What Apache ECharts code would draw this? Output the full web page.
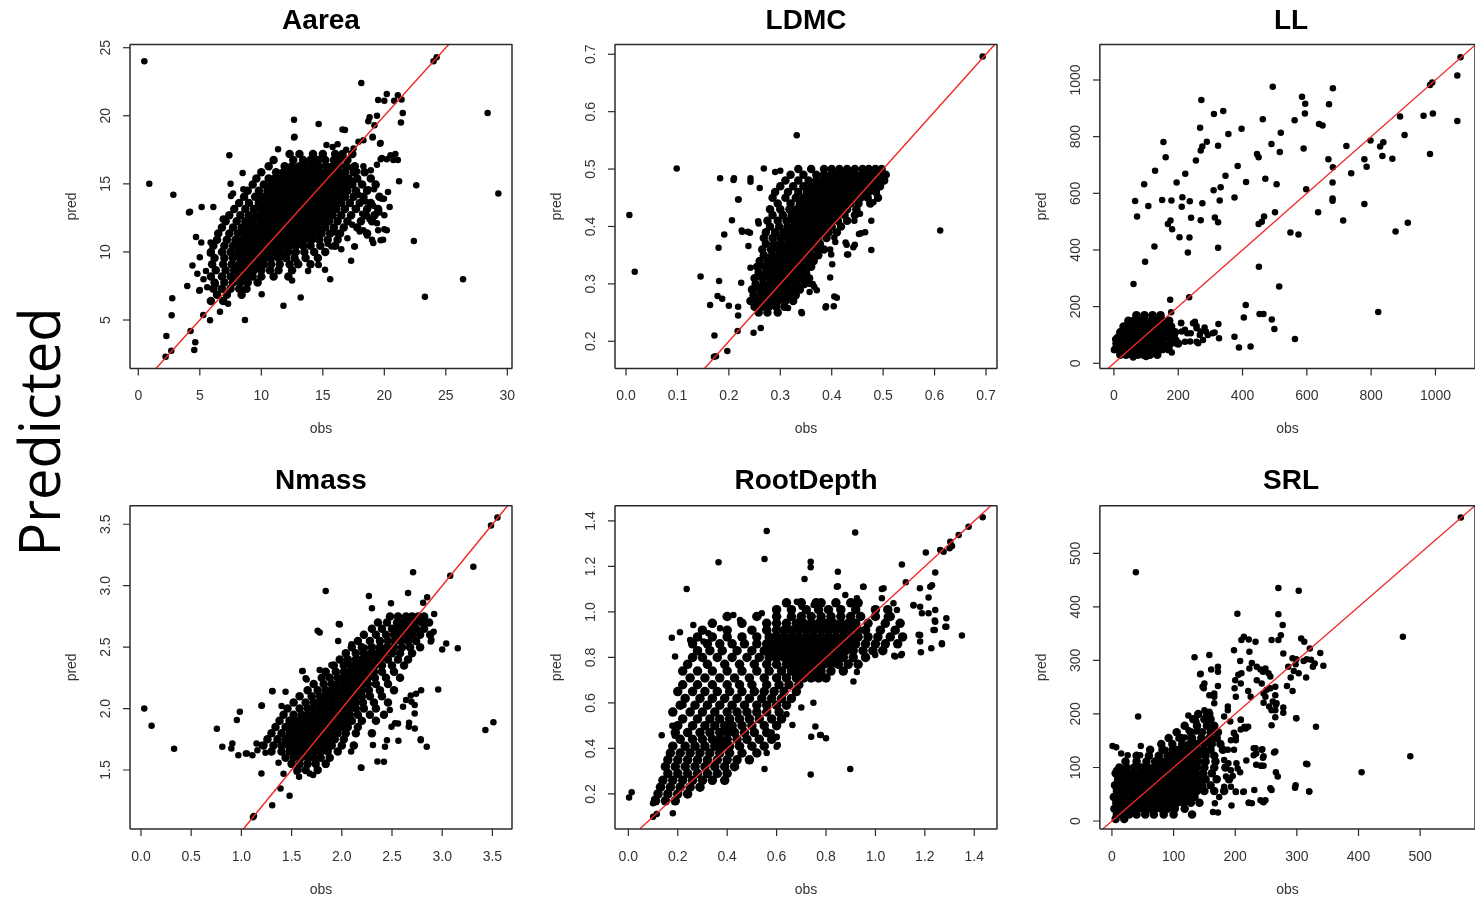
<!DOCTYPE html>
<html>
<head>
<meta charset="utf-8">
<title>obs vs pred</title>
<script src="https://cdn.jsdelivr.net/npm/echarts@6/dist/echarts.min.js"></script>
<style>
  html, body { margin: 0; padding: 0; background: #fff; }
  #main { width: 1475px; height: 899px; }
</style>
</head>
<body>
<div id="main"></div>
<script>
// panel names, tick values and plot-box extents
var panelNames = ['Aarea', 'LDMC', 'LL', 'Nmass', 'RootDepth', 'SRL'];
var xTicks = [
  [0, 5, 10, 15, 20, 25, 30],
  [0, 0.1, 0.2, 0.3, 0.4, 0.5, 0.6, 0.7],
  [0, 200, 400, 600, 800, 1000],
  [0, 0.5, 1, 1.5, 2, 2.5, 3, 3.5],
  [0, 0.2, 0.4, 0.6, 0.8, 1, 1.2, 1.4],
  [0, 100, 200, 300, 400, 500]
];
var yTicks = [
  [5, 10, 15, 20, 25],
  [0.2, 0.3, 0.4, 0.5, 0.6, 0.7],
  [0, 200, 400, 600, 800, 1000],
  [1.5, 2, 2.5, 3, 3.5],
  [0.2, 0.4, 0.6, 0.8, 1, 1.2, 1.4],
  [0, 100, 200, 300, 400, 500]
];
var tickDigits = [0, 1, 0, 1, 1, 0];
var xRange = [[-0.675, 30.38], [-0.0214, 0.7214], [-43.7, 1123], [-0.109, 3.695], [-0.054, 1.492], [-19.6, 589]];
var yRange = [[1.438, 25.235], [0.1526, 0.717], [-18.4, 1125.3], [1.02, 3.651], [0.046, 1.467], [-14.9, 588.9]];

// ---- Aarea : scattered points [obs, pred] and dense core rows [pred, [obs...]]
var aareaPts = [
  [0.49,24.0],[0.89,15.0],[2.85,14.2],[18.13,22.4],[24.0,24.0],[24.25,24.3],[28.4,20.2],[29.27,14.3],
  [22.6,14.9],[22.4,10.8],[23.3,6.7],[26.4,8.0],[17.3,9.35],[15.6,8.0],[13.2,6.65],[11.8,6.05],[8.67,5.0],
  [7.4,17.1],[3.98,7.5],[4.96,7.15],[2.76,6.6],[2.71,5.34],[2.28,3.82],[2.22,2.31],[2.68,2.75],[4.25,4.19],
  [4.63,3.36],[4.55,2.8],[5.15,13.3],[4.12,12.9],[6.1,13.3],[4.69,11.1],[5.12,10.7],[5.88,10.7],[6.86,12.4],
  [5.28,5.37],[5.83,4.98],[6.64,5.6],[7.3,6.2],[8.48,15.8],[7.5,15.0],[7.53,14.1],[7.7,14.3],[8.54,14.6],
  [12.66,19.7],[12.66,18.4],[14.66,19.4],[11.36,17.55],[16.6,19.0],[18.8,19.9],[19.5,21.15],[20.2,21.6],
  [21.1,21.5],[21.4,21.2],[20.8,21.1],[20.0,21.1],[21.5,20.2],[21.35,19.5],[21.2,15.2],[21.1,16.75],
  [20.5,17.1],[20.9,17.2],[20.2,16.8],[19.65,17.95],[19.05,18.4],[20.2,11.6],[19.9,10.9],[19.1,10.65],
  [17.56,10.4],[15.4,10.6],[14.66,9.04],[12.5,7.9],[10.03,6.9],[4.2,12.95],[6.91,12.45],[5.83,9.88],
  [5.0,7.2],[15.18,8.7],[17.6,10.4],[20.43,13.3],[20.0,11.67],[19.7,10.86],[19.0,10.9],[18.3,11.6],
  [19.16,14.6],[19.97,13.9],[20.73,16.75],[19.7,16.8],[19.05,18.46],[19.7,18.0],[16.8,18.95],[12.7,18.46],
  [15.3,17.85],[15.8,17.7],[17.9,18.1],[18.3,18.2],[18.7,19.6],[19.2,19.3],[19.4,20.0],[16.2,17.9],
  [16.9,17.5],[17.5,17.6],[17.2,16.2],[17.8,15.9],[18.3,16.3],[18.9,16.0],[19.4,16.4],[19.8,16.9],
  [17.5,15.2],[18.1,15.0],[18.7,14.6],[19.3,14.9],[17.9,14.2],[18.5,13.7],[19.1,13.4],[19.6,12.9],
  [17.6,13.2],[18.2,12.8],[18.8,12.4],[19.4,12.1],[17.4,12.0],[18.0,11.5],[18.6,11.2],[19.5,11.6],
  [20.0,12.7],[19.8,13.9],[20.3,14.4],[17.0,11.0],[16.5,10.2],[16.1,11.4],[15.7,10.4],[4.4,9.0],
  [5.0,9.6],[5.5,8.6],[5.3,8.0],[6.3,7.6],[5.6,7.4],[4.8,8.4],[14.64,9.05],[13.8,8.6],[12.9,9.3]
];
var aareaRows = [
  [17.2, [12.3, 13.1, 14.2, 15.0, 16.0, 16.6, 17.4]],
  [16.75, [11.0, 12.6, 13.4, 14.0, 14.6, 15.2, 15.9, 16.4, 17.0]],
  [16.3, [10.6, 11.9, 12.5, 13.1, 13.6, 14.2, 14.7, 15.3, 15.8, 16.3, 16.9, 17.6]],
  [15.85, [10.0, 11.2, 11.8, 12.3, 12.8, 13.3, 13.8, 14.3, 14.8, 15.3, 15.8, 16.3, 16.8, 17.5, 18.4]],
  [15.4, [9.6, 10.6, 11.1, 11.6, 12.1, 12.6, 13.1, 13.6, 14.1, 14.6, 15.1, 15.6, 16.1, 16.6, 17.1, 17.8, 18.9]],
  [14.95, [9.3, 10.2, 10.8, 11.3, 11.8, 12.3, 12.8, 13.3, 13.8, 14.3, 14.8, 15.3, 15.8, 16.3, 16.8, 17.4, 18.2, 19.3]],
  [14.5, [8.9, 9.8, 10.5, 11.0, 11.5, 12.0, 12.5, 13.0, 13.5, 14.0, 14.5, 15.0, 15.5, 16.0, 16.5, 17.0, 17.7, 18.6]],
  [14.05, [8.6, 9.5, 10.1, 10.7, 11.2, 11.7, 12.2, 12.7, 13.2, 13.7, 14.2, 14.7, 15.2, 15.7, 16.2, 16.8, 17.5, 18.3, 19.6]],
  [13.6, [8.2, 9.0, 9.8, 10.4, 10.9, 11.4, 11.9, 12.4, 12.9, 13.4, 13.9, 14.4, 14.9, 15.4, 15.9, 16.5, 17.2, 18.0, 18.9]],
  [13.15, [7.8, 8.7, 9.4, 10.0, 10.5, 11.0, 11.5, 12.0, 12.5, 13.0, 13.5, 14.0, 14.5, 15.0, 15.5, 16.1, 16.8, 17.7, 18.6, 19.5]],
  [12.7, [7.4, 8.3, 9.0, 9.6, 10.2, 10.7, 11.2, 11.7, 12.2, 12.7, 13.2, 13.7, 14.2, 14.7, 15.2, 15.8, 16.5, 17.3, 18.5, 19.2]],
  [12.25, [7.1, 8.0, 8.7, 9.3, 9.9, 10.4, 10.9, 11.4, 11.9, 12.4, 12.9, 13.4, 13.9, 14.4, 14.9, 15.5, 16.2, 17.0, 18.1, 19.0]],
  [11.8, [6.8, 7.7, 8.4, 9.0, 9.6, 10.1, 10.6, 11.1, 11.6, 12.1, 12.6, 13.1, 13.6, 14.1, 14.6, 15.2, 15.9, 16.7, 17.8]],
  [11.35, [6.5, 7.4, 8.1, 8.7, 9.3, 9.8, 10.3, 10.8, 11.3, 11.8, 12.3, 12.8, 13.3, 13.8, 14.3, 14.9, 15.6, 16.4, 18.6]],
  [10.9, [6.4, 7.2, 7.9, 8.5, 9.0, 9.5, 10.0, 10.5, 11.0, 11.5, 12.0, 12.5, 13.0, 13.5, 14.1, 14.7, 15.4, 16.2]],
  [10.45, [6.1, 7.0, 7.7, 8.3, 8.8, 9.3, 9.8, 10.3, 10.8, 11.3, 11.8, 12.3, 12.8, 13.4, 14.0, 14.8, 16.0]],
  [10.0, [5.9, 6.8, 7.5, 8.1, 8.6, 9.1, 9.6, 10.1, 10.6, 11.1, 11.6, 12.2, 12.8, 13.5, 14.3, 15.2]],
  [9.55, [6.2, 7.0, 7.7, 8.3, 8.8, 9.3, 9.8, 10.3, 10.8, 11.4, 12.0, 12.7, 13.6, 14.6]],
  [9.1, [6.0, 6.9, 7.6, 8.2, 8.7, 9.2, 9.7, 10.2, 10.8, 11.5, 12.3, 13.0, 14.0]],
  [8.65, [6.3, 7.1, 7.8, 8.4, 8.9, 9.4, 10.0, 10.7, 11.4, 12.5]],
  [8.2, [5.9, 6.8, 7.5, 8.1, 8.7, 9.3, 10.0, 11.0, 12.2]],
  [7.75, [6.2, 7.0, 7.7, 8.3, 8.9, 9.7]],
  [7.3, [6.1, 6.8, 7.5, 8.2, 8.8]],
  [6.85, [6.4, 7.2, 8.4]],
  [6.4, [5.9, 6.9]]
];

// ---- LDMC
var ldmcPts = [
  [0.0065,0.42],[0.017,0.321],[0.0986,0.501],[0.332,0.559],[0.6935,0.696],[0.611,0.393],[0.145,0.313],
  [0.1635,0.263],[0.183,0.484],[0.209,0.481],[0.219,0.447],[0.206,0.411],[0.191,0.386],[0.18,0.363],
  [0.181,0.305],[0.178,0.279],[0.187,0.274],[0.20,0.262],[0.172,0.21],[0.175,0.174],[0.171,0.173],
  [0.197,0.183],[0.217,0.218],[0.248,0.215],[0.262,0.223],[0.224,0.302],[0.218,0.26],[0.218,0.245],
  [0.225,0.393],[0.241,0.389],[0.238,0.366],[0.242,0.328],[0.26,0.467],[0.242,0.484],[0.242,0.478],
  [0.268,0.501],[0.29,0.495],[0.258,0.405],[0.315,0.258],[0.342,0.249],[0.388,0.259],[0.404,0.261],
  [0.41,0.276],[0.397,0.311],[0.363,0.30],[0.371,0.289],[0.357,0.286],[0.477,0.359],[0.477,0.41],
  [0.444,0.41],[0.43,0.351],[0.442,0.364],[0.427,0.372],[0.453,0.387],[0.465,0.39],[0.455,0.422],
  [0.405,0.381],[0.407,0.373],[0.401,0.334],[0.399,0.351],[0.397,0.36],[0.481,0.442],[0.21,0.484],
  [0.226,0.391],[0.237,0.391],[0.257,0.409],[0.429,0.368],[0.445,0.368],[0.457,0.388],[0.432,0.351],
  [0.405,0.278],[0.389,0.261],[0.341,0.251],[0.358,0.30],[0.366,0.295],[0.30,0.497],[0.218,0.447]
];
var ldmcRows = [
  [0.500, [0.335, 0.36, 0.385, 0.40, 0.415, 0.43, 0.445, 0.46, 0.472, 0.485, 0.497]],
  [0.490, [0.32, 0.345, 0.37, 0.385, 0.398, 0.41, 0.422, 0.434, 0.446, 0.458, 0.47, 0.482, 0.494, 0.505]],
  [0.480, [0.31, 0.335, 0.355, 0.37, 0.382, 0.394, 0.406, 0.418, 0.43, 0.442, 0.454, 0.466, 0.478, 0.49, 0.502]],
  [0.470, [0.30, 0.325, 0.345, 0.36, 0.372, 0.384, 0.396, 0.408, 0.42, 0.432, 0.444, 0.456, 0.468, 0.48, 0.494]],
  [0.460, [0.29, 0.315, 0.335, 0.352, 0.364, 0.376, 0.388, 0.40, 0.412, 0.424, 0.436, 0.448, 0.46, 0.472, 0.486]],
  [0.450, [0.285, 0.31, 0.33, 0.345, 0.358, 0.37, 0.382, 0.394, 0.406, 0.418, 0.43, 0.442, 0.456, 0.47, 0.49]],
  [0.440, [0.295, 0.32, 0.338, 0.35, 0.362, 0.374, 0.386, 0.398, 0.41, 0.422, 0.436, 0.452, 0.475]],
  [0.430, [0.28, 0.30, 0.318, 0.332, 0.344, 0.356, 0.368, 0.38, 0.392, 0.404, 0.416, 0.43, 0.448]],
  [0.420, [0.285, 0.305, 0.322, 0.336, 0.348, 0.36, 0.372, 0.384, 0.396, 0.41, 0.425, 0.445]],
  [0.410, [0.275, 0.295, 0.312, 0.326, 0.338, 0.35, 0.362, 0.374, 0.386, 0.398, 0.412, 0.43]],
  [0.400, [0.28, 0.298, 0.314, 0.328, 0.34, 0.352, 0.364, 0.376, 0.388, 0.40, 0.418]],
  [0.390, [0.272, 0.29, 0.306, 0.32, 0.332, 0.344, 0.356, 0.368, 0.38, 0.394, 0.41]],
  [0.380, [0.268, 0.285, 0.30, 0.314, 0.326, 0.338, 0.35, 0.362, 0.374, 0.39]],
  [0.370, [0.272, 0.288, 0.302, 0.315, 0.327, 0.339, 0.351, 0.363, 0.377]],
  [0.360, [0.265, 0.282, 0.296, 0.309, 0.321, 0.333, 0.345, 0.357, 0.372, 0.385]],
  [0.350, [0.268, 0.284, 0.298, 0.311, 0.323, 0.335, 0.347, 0.36, 0.374]],
  [0.340, [0.26, 0.276, 0.29, 0.303, 0.315, 0.327, 0.339, 0.351, 0.365]],
  [0.330, [0.255, 0.27, 0.284, 0.297, 0.309, 0.321, 0.333, 0.345, 0.36]],
  [0.320, [0.258, 0.273, 0.287, 0.30, 0.312, 0.324, 0.336, 0.35]],
  [0.310, [0.25, 0.265, 0.279, 0.292, 0.304, 0.316, 0.328, 0.342, 0.356]],
  [0.300, [0.252, 0.267, 0.281, 0.294, 0.306, 0.318, 0.332, 0.347]],
  [0.290, [0.245, 0.26, 0.274, 0.287, 0.299, 0.311, 0.324, 0.338]],
  [0.280, [0.248, 0.263, 0.277, 0.29, 0.302, 0.315, 0.33]],
  [0.270, [0.242, 0.256, 0.27, 0.283, 0.296, 0.31, 0.325]],
  [0.260, [0.25, 0.264, 0.278, 0.292, 0.308]],
  [0.250, [0.258, 0.275, 0.295]]
];

// ---- LL
var llPts = [
  [272,929],[311,880],[340,891],[494,976],[585,941],[595,916],[594,882],[681,971],[669,914],[638,845],
  [649,839],[562,858],[463,861],[397,828],[356,809],[268,831],[289,782],[324,768],[154,781],[161,727],
  [275,765],[270,751],[255,716],[128,680],[222,669],[195,638],[94,632],[66,573],[107,555],[72,518],
  [150,576],[179,575],[213,586],[236,572],[275,565],[211,553],[168,492],[176,504],[181,473],[204,445],
  [235,444],[230,391],[240,514],[270,505],[126,412],[97,358],[314,515],[310,611],[332,621],[329,575],
  [347,662],[324,498],[324,408],[375,585],[385,696],[411,640],[445,739],[450,727],[471,651],[467,518],
  [450,492],[460,500],[451,341],[490,774],[516,746],[506,632],[501,533],[519,814],[549,462],[574,455],
  [590,758],[598,614],[635,533],[667,720],[681,692],[680,638],[680,582],[680,574],[713,504],[723,767],
  [738,671],[779,720],[786,694],[798,786],[779,562],[828,765],[838,780],[835,732],[866,722],[876,465],
  [890,871],[904,806],[914,496],[963,874],[983,982],[990,991],[992,882],[983,739],[1068,1016],[1078,1080],
  [1068,855],[822,181],[514,271],[410,206],[404,162],[453,174],[465,174],[491,155],[499,121],[563,86],
  [425,59],[389,56],[375,94],[327,88],[325,139],[313,109],[61,280],[234,233],[175,224],[178,180],
  [252,147],[257,132],[282,126],[286,112],[267,100],[257,76],[237,77],[228,106],[211,112],[209,143],
  [180,114],[189,97],[194,82],[180,38],[209,141],[221,118],[239,106],[246,141],[257,124],[270,112],
  [277,82],[262,71],[292,100],[307,106],[221,76],[190,71],[0,47],[4,85],[60,20],[100,22]
];
var llRows = [
  [170, [70, 95, 120, 145]],
  [150, [45, 62, 80, 98, 116, 134, 152, 172]],
  [130, [30, 48, 66, 84, 102, 120, 138, 156, 178]],
  [110, [20, 38, 56, 74, 92, 110, 128, 146, 166, 190]],
  [90, [12, 30, 48, 66, 84, 102, 120, 138, 158, 180]],
  [70, [8, 25, 42, 60, 78, 96, 114, 132, 152, 175, 200]],
  [50, [5, 22, 40, 58, 76, 94, 112, 130, 150, 170]],
  [30, [20, 38, 56, 74, 92, 112, 135]]
];

// ---- Nmass
var nmassPts = [
  [0.033,2.0],[0.106,1.86],[0.33,1.673],[0.756,1.836],[0.81,1.69],[0.9,1.676],[0.91,1.716],[0.955,1.907],
  [0.985,1.974],[0.97,1.62],[1.055,1.635],[1.11,1.62],[1.2,2.024],[1.2,1.472],[1.307,2.143],[1.307,1.214],
  [1.39,1.35],[1.48,1.29],[1.125,1.125],[1.115,1.115],[1.84,2.957],[1.78,2.62],[1.76,2.634],[1.97,2.688],
  [1.61,2.306],[1.64,2.246],[2.27,2.916],[2.3,2.816],[2.49,2.857],[2.66,2.94],[2.71,3.11],[3.08,3.08],
  [3.31,3.155],[3.486,3.49],[3.55,3.554],[2.85,2.906],[2.81,2.862],[2.92,2.77],[3.04,2.53],[3.0,2.48],
  [3.155,2.49],[2.96,2.156],[2.886,2.545],[2.915,2.626],[2.846,1.69],[2.786,1.75],[2.667,1.852],
  [2.726,1.96],[2.726,2.03],[2.687,2.107],[2.564,1.738],[2.53,1.88],[3.43,1.825],[3.51,1.888],[2.19,1.52],
  [2.355,1.57],[2.42,1.567],[2.093,1.65],[2.31,1.703],[1.715,1.46],[1.575,1.445],[1.98,2.685],
  [1.964,2.55],[2.097,2.523],[2.23,2.495],[1.897,2.354],[1.78,2.313],[1.606,2.305],[1.65,2.237],
  [1.31,2.142],[1.44,2.137],[1.204,2.026],[1.4,2.02],[1.045,1.635],[1.151,1.716],[1.2,1.703],
  [1.55,1.485],[1.68,1.472],[2.196,1.518],[2.786,1.743],[2.893,2.558],[2.67,1.885],[2.727,1.838],
  [2.56,1.879],[2.495,1.852],[2.61,2.015],[2.64,2.069],[2.694,2.056],[2.79,2.15],[2.74,2.12],
  [2.478,1.988],[2.43,1.689],[2.45,1.743],[1.16,1.66],[1.24,1.64],[1.37,1.56],[1.42,1.47]
];
var nmassRows = [
  [2.75, [2.48, 2.56, 2.64, 2.70, 2.76, 2.82]],
  [2.70, [2.36, 2.45, 2.55, 2.61, 2.67, 2.73, 2.80, 2.87]],
  [2.65, [2.30, 2.40, 2.50, 2.56, 2.62, 2.68, 2.74, 2.82]],
  [2.60, [2.22, 2.34, 2.44, 2.52, 2.58, 2.64, 2.70, 2.78, 2.88]],
  [2.55, [2.16, 2.28, 2.38, 2.46, 2.53, 2.59, 2.66, 2.74]],
  [2.50, [2.10, 2.20, 2.30, 2.38, 2.45, 2.52, 2.60, 2.68, 2.78]],
  [2.45, [2.04, 2.14, 2.22, 2.29, 2.36, 2.42, 2.50, 2.58, 2.70]],
  [2.40, [1.98, 2.06, 2.14, 2.20, 2.26, 2.32, 2.38, 2.46, 2.56, 2.66]],
  [2.35, [1.92, 2.02, 2.09, 2.15, 2.21, 2.27, 2.33, 2.40, 2.50, 2.62]],
  [2.30, [1.84, 1.94, 2.02, 2.08, 2.14, 2.20, 2.26, 2.32, 2.40, 2.52]],
  [2.25, [1.80, 1.88, 1.96, 2.02, 2.08, 2.14, 2.20, 2.26, 2.33, 2.44, 2.58]],
  [2.20, [1.72, 1.82, 1.90, 1.96, 2.02, 2.08, 2.14, 2.20, 2.26, 2.34, 2.46]],
  [2.15, [1.66, 1.76, 1.84, 1.90, 1.96, 2.02, 2.08, 2.14, 2.20, 2.27, 2.38, 2.52]],
  [2.10, [1.58, 1.70, 1.78, 1.84, 1.90, 1.96, 2.02, 2.08, 2.14, 2.20, 2.28, 2.40]],
  [2.05, [1.52, 1.64, 1.72, 1.78, 1.84, 1.90, 1.96, 2.02, 2.08, 2.14, 2.21, 2.32, 2.46]],
  [2.00, [1.46, 1.58, 1.66, 1.72, 1.78, 1.84, 1.90, 1.96, 2.02, 2.08, 2.14, 2.22, 2.34]],
  [1.95, [1.42, 1.52, 1.60, 1.66, 1.72, 1.78, 1.84, 1.90, 1.96, 2.02, 2.08, 2.16, 2.28, 2.42]],
  [1.90, [1.38, 1.48, 1.55, 1.61, 1.67, 1.73, 1.79, 1.85, 1.91, 1.97, 2.03, 2.10, 2.20, 2.34]],
  [1.85, [1.34, 1.44, 1.51, 1.57, 1.63, 1.69, 1.75, 1.81, 1.87, 1.93, 1.99, 2.06, 2.16]],
  [1.80, [1.30, 1.40, 1.48, 1.54, 1.60, 1.66, 1.72, 1.78, 1.84, 1.90, 1.96, 2.04, 2.14, 2.30]],
  [1.75, [1.26, 1.36, 1.44, 1.50, 1.56, 1.62, 1.68, 1.74, 1.80, 1.86, 1.93, 2.02]],
  [1.70, [1.22, 1.32, 1.40, 1.47, 1.53, 1.59, 1.65, 1.71, 1.77, 1.83, 1.90, 2.00, 2.12]],
  [1.65, [1.30, 1.40, 1.48, 1.55, 1.61, 1.67, 1.73, 1.79, 1.86, 1.96]],
  [1.60, [1.44, 1.52, 1.59, 1.66, 1.72, 1.79, 1.88]],
  [1.55, [1.50, 1.58, 1.66, 1.74, 1.84]],
  [1.50, [1.56, 1.64, 1.76]]
];

// ---- RootDepth
var rootPts = [
  [0.003,0.185],[0.0135,0.207],[0.56,1.356],[0.551,1.233],[0.365,1.218],[0.236,1.101],[0.918,1.349],
  [0.738,1.221],[0.738,1.196],[0.713,1.145],[0.848,1.177],[0.848,1.113],[0.95,1.111],[1.026,1.101],
  [1.107,1.209],[1.123,1.13],[1.204,1.261],[1.242,1.173],[1.222,1.111],[1.229,1.117],[1.215,1.064],
  [1.18,1.104],[1.154,1.028],[1.188,0.994],[1.242,1.009],[1.287,0.972],[1.35,0.896],[1.287,0.935],
  [1.24,0.962],[1.24,0.921],[1.175,0.90],[1.181,0.87],[1.184,0.823],[1.226,0.84],[1.269,0.858],
  [1.046,0.979],[1.076,0.808],[1.103,0.81],[0.999,0.811],[0.911,0.694],[0.925,0.736],[1.262,1.272],
  [1.276,1.265],[1.303,1.309],[1.337,1.338],[1.377,1.375],[1.434,1.416],[1.30,1.28],[1.31,1.29],
  [0.749,0.601],[0.757,0.496],[0.776,0.459],[0.80,0.445],[0.74,0.452],[0.738,0.286],[0.898,0.31],
  [0.664,0.503],[0.551,0.31],[0.605,0.415],[0.60,0.449],[0.176,0.887],[0.189,0.804],[0.209,0.911],
  [0.25,0.877],[0.263,0.943],[0.135,0.458],[0.182,0.562],[0.223,0.591],[0.178,0.50],[0.188,0.456],
  [0.18,0.115],[0.10,0.10],[0.115,0.112],[0.105,0.177],[0.10,0.159],[0.682,1.045],[0.702,1.023],
  [0.75,1.031],[0.77,1.038],[0.844,1.111],[0.878,1.075],[0.952,1.111],[0.925,1.06],[0.925,1.031],
  [1.033,1.104],[1.026,1.06],[1.073,1.038],[1.087,1.009],[1.154,1.031],[1.181,1.023],[1.215,0.994],
  [1.242,0.957],[1.283,0.935],[1.181,0.899],[1.235,0.921],[1.269,0.862],[0.425,0.987],[0.452,0.965],
  [0.54,0.994],[0.60,1.009],[0.371,0.928],[0.324,0.906],[0.304,0.87],[0.779,0.459],[0.60,0.408],
  [0.60,0.452],[1.08,0.804],[1.107,0.815],[0.66,0.62],[0.70,0.58],[0.64,0.55],[0.58,0.47],[0.56,0.38]
];
var rootRows = [
  [1.04, [0.64, 0.70, 0.76, 0.78, 0.84, 0.90, 0.93]],
  [1.01, [0.60, 0.66, 0.72, 0.77, 0.81, 0.86, 0.92, 1.00, 1.05]],
  [0.98, [0.40, 0.52, 0.60, 0.66, 0.70, 0.74, 0.78, 0.82, 0.86, 0.90, 0.94, 1.00, 1.06]],
  [0.95, [0.34, 0.46, 0.56, 0.60, 0.64, 0.68, 0.71, 0.74, 0.77, 0.80, 0.83, 0.86, 0.89, 0.92, 0.97, 1.04, 1.10]],
  [0.92, [0.30, 0.40, 0.50, 0.56, 0.60, 0.63, 0.66, 0.69, 0.72, 0.75, 0.78, 0.81, 0.84, 0.87, 0.90, 0.93, 0.96, 1.02, 1.08]],
  [0.89, [0.28, 0.34, 0.40, 0.46, 0.52, 0.57, 0.60, 0.63, 0.66, 0.69, 0.72, 0.75, 0.78, 0.81, 0.84, 0.87, 0.90, 0.93, 0.97, 1.01, 1.06, 1.11]],
  [0.86, [0.26, 0.32, 0.37, 0.42, 0.47, 0.52, 0.56, 0.59, 0.62, 0.65, 0.68, 0.71, 0.74, 0.77, 0.80, 0.83, 0.86, 0.89, 0.92, 0.96, 1.00, 1.04, 1.09]],
  [0.83, [0.28, 0.33, 0.38, 0.44, 0.50, 0.55, 0.58, 0.61, 0.64, 0.67, 0.70, 0.73, 0.76, 0.79, 0.82, 0.85, 0.88, 0.91, 0.95, 0.99, 1.03]],
  [0.80, [0.26, 0.30, 0.36, 0.42, 0.48, 0.53, 0.57, 0.60, 0.63, 0.66, 0.69, 0.72, 0.75, 0.78, 0.81, 0.84, 0.87, 0.91, 0.96]],
  [0.77, [0.24, 0.32, 0.39, 0.45, 0.51, 0.56, 0.60, 0.64, 0.67, 0.70, 0.73, 0.76, 0.79, 0.82, 0.85, 0.89, 0.93]],
  [0.74, [0.22, 0.28, 0.34, 0.40, 0.46, 0.52, 0.57, 0.62, 0.66, 0.69, 0.72, 0.75, 0.78, 0.82, 0.87]],
  [0.71, [0.25, 0.31, 0.37, 0.43, 0.49, 0.55, 0.60, 0.64, 0.68, 0.71, 0.74, 0.77, 0.80]],
  [0.68, [0.22, 0.28, 0.34, 0.40, 0.45, 0.50, 0.56, 0.61, 0.65, 0.69]],
  [0.65, [0.20, 0.26, 0.31, 0.36, 0.41, 0.46, 0.51, 0.55, 0.59, 0.63, 0.68]],
  [0.62, [0.23, 0.29, 0.34, 0.39, 0.44, 0.49, 0.54, 0.58, 0.62, 0.66]],
  [0.59, [0.21, 0.27, 0.32, 0.37, 0.42, 0.47, 0.52, 0.56, 0.60, 0.64]],
  [0.56, [0.18, 0.25, 0.30, 0.35, 0.40, 0.44, 0.48, 0.52, 0.56, 0.61]],
  [0.53, [0.22, 0.28, 0.33, 0.37, 0.41, 0.45, 0.49, 0.53, 0.58, 0.62]],
  [0.50, [0.20, 0.26, 0.31, 0.35, 0.39, 0.42, 0.46, 0.50, 0.55, 0.60]],
  [0.47, [0.19, 0.24, 0.29, 0.33, 0.37, 0.40, 0.43, 0.47, 0.51, 0.56]],
  [0.44, [0.21, 0.26, 0.30, 0.34, 0.37, 0.40, 0.44, 0.48, 0.53, 0.58]],
  [0.41, [0.18, 0.23, 0.27, 0.31, 0.35, 0.38, 0.41, 0.45, 0.50, 0.55]],
  [0.38, [0.17, 0.21, 0.25, 0.29, 0.33, 0.37, 0.41, 0.46, 0.52]],
  [0.35, [0.16, 0.20, 0.24, 0.28, 0.32, 0.36, 0.40, 0.44, 0.49]],
  [0.32, [0.15, 0.19, 0.23, 0.27, 0.31, 0.35, 0.39, 0.43]],
  [0.29, [0.16, 0.20, 0.24, 0.28, 0.32, 0.36, 0.40]],
  [0.26, [0.14, 0.18, 0.22, 0.26, 0.30, 0.34, 0.39]],
  [0.23, [0.13, 0.17, 0.21, 0.25, 0.29]],
  [0.20, [0.12, 0.16, 0.20, 0.24]],
  [0.17, [0.11, 0.15, 0.19]]
];

// ---- SRL
var srlPts = [
  [566,567],[38.8,464.5],[42.5,195],[270,435],[303,430],[270,386],[203.5,387],[277,366],[274,347],
  [270,338],[259,338],[307,341],[312,335],[321,322],[338,314],[343,290],[329,294],[326,288],[316,302],
  [311,299],[323,301],[293,304],[299,302],[298,293],[315,268],[295,280],[303,276],[290,268],[284,252],
  [293,243],[299,192],[331,176],[317,106],[297,62],[320,55],[472,344],[484,121],[405,91],[269,83],
  [263,128],[259,58],[245,36],[249,39],[244,134],[245,118],[242,103],[246,103],[233,136],[234,126],
  [231,58],[222,34],[208,91],[201,54],[213,54],[194,29],[202,108],[218,113],[215,176],[221,176],
  [209,189],[209,171],[198,165],[201,151],[201,232],[209,257],[205,273],[210,276],[200,263],[199,248],
  [198,319],[208,299],[210,338],[214,344],[222,339],[233,335],[223,316],[227,295],[223,285],[235,288],
  [241,283],[245,279],[249,285],[254,276],[257,270],[235,263],[243,257],[251,245],[221,243],[225,232],
  [246,238],[249,232],[246,221],[255,214],[257,248],[265,251],[265,235],[261,223],[266,217],[265,207],
  [265,194],[278,212],[278,202],[278,313],[286,288],[134,306],[158,310],[172,288],[172,279],[143,274],
  [147,251],[149,248],[158,235],[166,232],[188,214],[188,207],[182,195],[124,197],[1,140],[6.9,138],
  [15,126],[25.5,123],[46.8,140],[45.8,123],[81,139],[86.6,133],[108,154],[118.5,156],[124,170],
  [135.6,192],[137,186],[150,207],[153,198],[155,186],[137,167],[158,204],[166,238],[166,220],[172,252],
  [144,275],[150,257],[161,283],[192,186],[198,164],[209,189],[217,173],[193,151],[201,158],[188,133],
  [198,133],[182,114],[189,108],[193,95],[204,98],[185,83],[196,84],[182,64],[193,64],[174,45],[167,33],
  [201,55],[214,55],[222,34],[227,33],[241,39],[246,35],[257,61],[265,130],[230,136],[230,123],[243,133],
  [246,121],[234,105],[242,103],[266,91],[298,67],[320,55],[315,107],[299,192],[259,179],[267,220],
  [259,207],[164,17],[172,16],[7,95],[7,52],[9.6,33]
];
var srlRows = [
  [200, [140, 158]],
  [190, [132, 150, 160]],
  [178, [118, 138, 154, 166]],
  [166, [105, 128, 146, 160, 172]],
  [155, [92, 112, 130, 145, 158, 170]],
  [144, [80, 98, 114, 126, 138, 150, 162, 176]],
  [133, [62, 82, 98, 108, 118, 128, 138, 148, 160, 180]],
  [122, [40, 60, 76, 90, 100, 110, 120, 130, 140, 152, 166]],
  [111, [22, 40, 56, 70, 80, 90, 100, 110, 120, 130, 140, 152, 168]],
  [100, [12, 24, 36, 48, 58, 68, 78, 88, 98, 108, 118, 128, 138, 150, 166, 184]],
  [89, [6, 16, 26, 36, 46, 56, 66, 76, 86, 96, 106, 116, 126, 136, 148, 162]],
  [78, [10, 20, 30, 40, 50, 60, 70, 80, 90, 100, 110, 120, 130, 140, 152, 170, 190]],
  [67, [5, 14, 24, 34, 44, 54, 64, 74, 84, 94, 104, 114, 124, 134, 146, 160]],
  [56, [8, 18, 28, 38, 48, 58, 68, 78, 88, 98, 108, 118, 128, 138, 150, 166, 182]],
  [45, [3, 12, 22, 32, 42, 52, 62, 72, 82, 92, 102, 112, 122, 134]],
  [34, [7, 16, 26, 36, 46, 56, 66, 76, 86, 96, 106, 116, 128, 142]],
  [23, [4, 12, 21, 30, 40, 50, 60, 70, 80, 90, 102, 118]],
  [12, [8, 18, 28, 40, 54, 68, 84, 100, 130]],
  [4, [6, 20]]
];

// rows of the dense cores -> [obs, pred] pairs
function expandRows(rows) {
  var out = [];
  rows.forEach(function (r) {
    r[1].forEach(function (x) { out.push([x, r[0]]); });
  });
  return out;
}

var panelPts = [aareaPts, ldmcPts, llPts, nmassPts, rootPts, srlPts];
var panelCore = [
  expandRows(aareaRows), expandRows(ldmcRows), expandRows(llRows),
  expandRows(nmassRows), expandRows(rootRows), expandRows(srlRows)
];

// layout: plot box per panel; the grid is widened left/bottom so the
// outward R-style ticks fall inside it
var boxLeft = [130, 615, 1100];
var boxTop = [44.5, 505.7];
var boxHeight = [324, 323.3];
var boxWidth = 382;
var pad = 8;
var tickLen = 7;
var titleY = [21, 481];
var coreDotSize = [8.5, 8.5, 8.5, 8.5, 9.5, 8.5];
var frameColor = '#2b2b2b';
var labelFont = '"Liberation Sans", Arial, Helvetica, sans-serif';

var grids = [], xAxes = [], yAxes = [], series = [], graphics = [];

function segment(i, a, b, width) {
  return {
    type: 'line', xAxisIndex: i, yAxisIndex: i, data: [a, b],
    symbol: 'none', clip: false, silent: true, animation: false, z: 4,
    lineStyle: { color: frameColor, width: width }
  };
}

panelNames.forEach(function (name, i) {
  var col = i % 3, row = Math.floor(i / 3);
  var dp = tickDigits[i];
  var fmt = function (v) { return Number(v).toFixed(dp); };
  var x0 = xRange[i][0], x1 = xRange[i][1], y0 = yRange[i][0], y1 = yRange[i][1];
  var dxPerPx = (x1 - x0) / boxWidth;
  var dyPerPx = (y1 - y0) / boxHeight[row];

  grids.push({
    left: boxLeft[col] - pad, top: boxTop[row],
    width: boxWidth + pad, height: boxHeight[row] + pad,
    show: false
  });

  // axis names are centred on the grid; the padding re-centres them on the box
  xAxes.push({
    gridIndex: i, type: 'value', min: x0 - pad * dxPerPx, max: x1, position: 'bottom',
    name: 'obs', nameLocation: 'middle', nameGap: 54 - pad,
    nameTextStyle: { color: '#333', fontSize: 14, fontFamily: labelFont, padding: [0, 0, 0, pad] },
    axisLine: { show: false, onZero: false },
    axisTick: { show: false },
    axisLabel: { customValues: xTicks[i], margin: 21 - pad, formatter: fmt, color: '#333', fontSize: 14, fontFamily: labelFont },
    splitLine: { show: false }
  });

  yAxes.push({
    gridIndex: i, type: 'value', min: y0 - pad * dyPerPx, max: y1, position: 'left',
    name: 'pred', nameLocation: 'middle', nameGap: 51 - pad,
    nameTextStyle: { color: '#333', fontSize: 14, fontFamily: labelFont, padding: [0, 0, 0, pad] },
    axisLine: { show: false, onZero: false },
    axisTick: { show: false },
    axisLabel: { customValues: yTicks[i], margin: 17 - pad, rotate: 90, formatter: fmt, color: '#333', fontSize: 14, fontFamily: labelFont },
    splitLine: { show: false }
  });

  // isolated points
  series.push({
    type: 'scatter', xAxisIndex: i, yAxisIndex: i,
    data: panelPts[i], symbol: 'circle', symbolSize: 6.5,
    itemStyle: { color: '#000', opacity: 1 },
    silent: true, animation: false, z: 2
  });
  // overlapping points of the dense core
  series.push({
    type: 'scatter', xAxisIndex: i, yAxisIndex: i,
    data: panelCore[i], symbol: 'circle', symbolSize: coreDotSize[i],
    itemStyle: { color: '#000', opacity: 1 },
    silent: true, animation: false, z: 2
  });

  // 1:1 line, limited to the plot box
  var lo = Math.max(x0, y0), hi = Math.min(x1, y1);
  series.push({
    type: 'line', xAxisIndex: i, yAxisIndex: i,
    data: [[lo, lo], [hi, hi]], symbol: 'none', clip: false,
    lineStyle: { color: '#f02828', width: 1.4 },
    silent: true, animation: false, z: 3
  });

  // plot box
  series.push({
    type: 'line', xAxisIndex: i, yAxisIndex: i,
    data: [[x0, y0], [x1, y0], [x1, y1], [x0, y1], [x0, y0]],
    symbol: 'none', clip: false, silent: true, animation: false, z: 4,
    lineStyle: { color: frameColor, width: 1.5 }
  });

  // outward tick marks
  xTicks[i].forEach(function (v) {
    series.push(segment(i, [v, y0], [v, y0 - tickLen * dyPerPx], 1.2));
  });
  yTicks[i].forEach(function (v) {
    series.push(segment(i, [x0, v], [x0 - tickLen * dxPerPx, v], 1.2));
  });

  graphics.push({
    type: 'text', x: boxLeft[col] + boxWidth / 2, y: titleY[row],
    style: { text: name, font: 'bold 28px ' + labelFont, fill: '#000', align: 'center', verticalAlign: 'middle' }
  });
});

graphics.push({
  type: 'text', x: 44, y: 432, rotation: Math.PI / 2,
  style: { text: 'Predicted', font: '56px "Open Sans", "Noto Sans", sans-serif', fill: '#000', align: 'center', verticalAlign: 'middle' }
});

var chart = echarts.init(document.getElementById('main'), null, { renderer: 'canvas' });
chart.setOption({
  backgroundColor: '#fff',
  animation: false,
  grid: grids,
  xAxis: xAxes,
  yAxis: yAxes,
  series: series,
  graphic: graphics
});
</script>
</body>
</html>
